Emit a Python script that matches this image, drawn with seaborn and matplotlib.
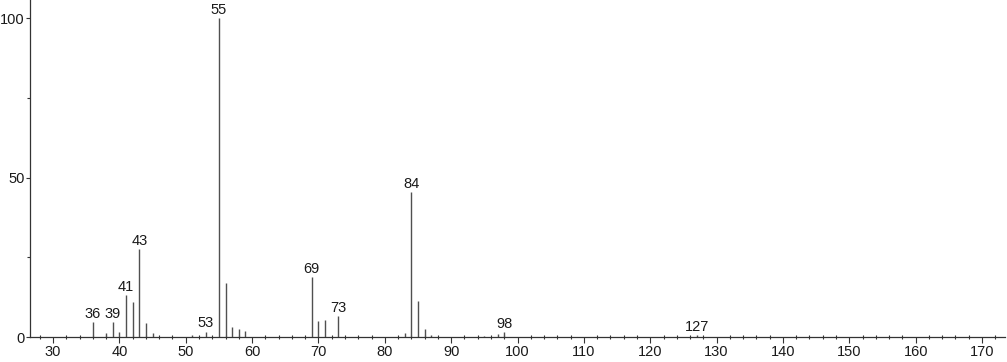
import matplotlib
matplotlib.use("Agg")
import matplotlib.pyplot as plt
from matplotlib.ticker import MultipleLocator
import seaborn as sns
import pandas as pd

mz = [36, 38, 39, 40, 41, 42, 43, 44, 45, 51, 53, 55, 56, 57, 58, 59,
      69, 70, 71, 73, 83, 84, 85, 86, 87, 95, 97, 98, 127]
intensity = [4.7, 1.2, 4.7, 1.7, 13.1, 11.1, 27.7, 4.3, 1.4, 0.5, 1.7, 100, 17.0, 3.0, 2.6, 2.0,
             18.7, 5.0, 5.2, 6.7, 1.2, 45.6, 11.2, 2.5, 0.7, 0.4, 0.8, 1.5, 0.5]
labeled = [36, 39, 41, 43, 53, 55, 69, 73, 84, 98, 127]
x_ticks = [30, 40, 50, 60, 70, 80, 90, 100, 110, 120, 130, 140, 150, 160, 170]
y_ticks = [0, 50, 100]

df = pd.DataFrame({"mz": mz, "intensity": intensity})

sns.set_theme(style="ticks")
plt.rcParams["font.family"] = ["Liberation Sans", "DejaVu Sans"]

fig = plt.figure(figsize=(10.07, 3.62), dpi=100)
ax = fig.add_axes([0.0293, 0.069, 0.9687, 0.931])

ax.vlines(df["mz"], 0, df["intensity"], colors="#505050", linewidth=1.0)

for m, v in zip(df["mz"], df["intensity"]):
    if m in labeled:
        ax.annotate(str(m), (m, v), xytext=(0, 0.8), textcoords="offset points",
                    ha="center", va="bottom", fontsize=10.5, color="#1a1a1a")

ax.set_xlim(26.46, 173.46)
ax.set_ylim(0, 105.7)
ax.set_xticks(x_ticks)
ax.set_yticks(y_ticks)
ax.xaxis.set_minor_locator(MultipleLocator(2))
ax.yaxis.set_minor_locator(MultipleLocator(25))

ax.tick_params(axis="x", which="major", direction="out", length=4.5, width=0.8,
               color="#333333", labelsize=10.5, labelcolor="#1a1a1a", pad=1.0)
ax.tick_params(axis="y", which="major", direction="out", length=3.0, width=0.8,
               color="#333333", labelsize=10.5, labelcolor="#1a1a1a", pad=0.3)
ax.tick_params(axis="x", which="minor", direction="inout", length=3.5, width=0.8, color="#333333")
ax.tick_params(axis="y", which="minor", direction="out", length=2.5, width=0.8, color="#333333")

sns.despine(ax=ax, top=True, right=True)
for s in ["left", "bottom"]:
    ax.spines[s].set_color("#333333")
    ax.spines[s].set_linewidth(0.9)

ax.set_xlabel("")
ax.set_ylabel("")
fig.savefig("out.png", dpi=100)
